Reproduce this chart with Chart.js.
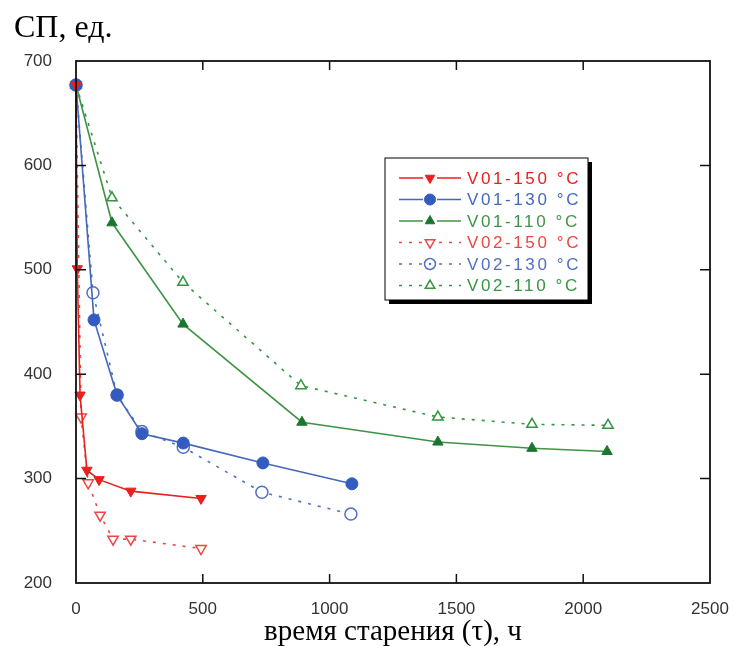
<!DOCTYPE html>
<html lang="ru">
<head>
  <meta charset="UTF-8">
  <title>СП от времени старения</title>
  <script src="https://cdn.jsdelivr.net/npm/chart.js"></script>
  <style>
    body { margin: 0; background: #fff; }
    #wrap { position: relative; width: 735px; height: 646px; }
    #yTitle {
      position: absolute; left: 14px; top: 9px;
      font-family: "Liberation Serif", "Times New Roman", serif;
      font-size: 32px; color: #000; line-height: 34px;
    }
    #chart { position: absolute; left: 0; top: 0; }
  </style>
</head>
<body>
  <div id="wrap">
    <canvas id="chart" width="735" height="646"></canvas>
    <div id="yTitle">СП, ед.</div>
  </div>

  <script>
    // values
    const seriesLabels = ['V01-150 °C', 'V01-130 °C', 'V01-110 °C', 'V02-150 °C', 'V02-130 °C', 'V02-110 °C'];

    const timeV01_150 = [0, 5, 16, 43, 91, 216, 493];
    const spV01_150 = [677, 501, 380, 308, 299, 288, 281];
    const timeV01_130 = [0, 71, 162, 260, 423, 737, 1088];
    const spV01_130 = [677, 452, 380, 343, 334, 315, 295];
    const timeV01_110 = [0, 142, 422, 891, 1427, 1798, 2094];
    const spV01_110 = [677, 545, 448, 354, 335, 329, 326];

    const timeV02_150 = [0, 20, 48, 95, 146, 216, 493];
    const spV02_150 = [677, 359, 296, 265, 242, 242, 233];
    const timeV02_130 = [0, 67, 162, 260, 423, 733, 1084];
    const spV02_130 = [677, 478, 380, 345, 330, 287, 266];
    const timeV02_110 = [0, 142, 422, 887, 1427, 1798, 2098];
    const spV02_110 = [677, 569, 488, 389, 359, 352, 351];

    const xTicks = [0, 500, 1000, 1500, 2000, 2500];
    const yTicks = [200, 300, 400, 500, 600, 700];

    function pts(xs, ys) {
      return xs.map((x, i) => ({ x: x, y: ys[i] }));
    }

    const red = 'rgb(232, 32, 30)';
    const blue = 'rgb(68, 104, 186)';
    const blueDark = 'rgb(52, 92, 192)';
    const green = 'rgb(62, 148, 70)';
    const greenDark = 'rgb(28, 118, 48)';

    function solid(label, data, color, fill, style, rot) {
      return {
        label: label, data: data, showLine: true, clip: false,
        borderColor: color, borderWidth: 1.6,
        pointStyle: style, rotation: rot, pointRadius: 6,
        pointBackgroundColor: fill, pointBorderColor: fill, pointBorderWidth: 1
      };
    }
    function dashed(label, data, color, style, rot) {
      return {
        label: label, data: data, showLine: true, clip: false,
        borderColor: color, borderWidth: 1.6, borderDash: [3, 7],
        pointStyle: style, rotation: rot, pointRadius: 6,
        pointBackgroundColor: '#fff', pointBorderColor: color, pointBorderWidth: 1.5
      };
    }

    // frame with inward ticks
    const framePlugin = {
      id: 'frame',
      afterDatasetsDraw(chart) {
        const { ctx, chartArea: a, scales } = chart;
        ctx.save();
        ctx.strokeStyle = '#111';
        ctx.lineWidth = 1.8;
        ctx.strokeRect(a.left, a.top, a.right - a.left, a.bottom - a.top);
        ctx.lineWidth = 1.5;
        ctx.beginPath();
        xTicks.slice(1, -1).forEach(v => {
          const px = scales.x.getPixelForValue(v);
          ctx.moveTo(px, a.bottom); ctx.lineTo(px, a.bottom - 9);
          ctx.moveTo(px, a.top); ctx.lineTo(px, a.top + 9);
        });
        yTicks.slice(1, -1).forEach(v => {
          const py = scales.y.getPixelForValue(v);
          ctx.moveTo(a.left, py); ctx.lineTo(a.left + 10, py);
          ctx.moveTo(a.right, py); ctx.lineTo(a.right - 10, py);
        });
        ctx.stroke();
        ctx.restore();
      }
    };

    // boxed legend with shadow, line sample + marker
    const legendPlugin = {
      id: 'boxLegend',
      afterDraw(chart) {
        const ctx = chart.ctx;
        const bx = 385, by = 158, bw = 203, bh = 142;
        ctx.save();
        ctx.fillStyle = '#000';
        ctx.fillRect(bx + 4, by + 4, bw, bh);
        ctx.fillStyle = '#fff';
        ctx.fillRect(bx, by, bw, bh);
        ctx.strokeStyle = '#000';
        ctx.lineWidth = 1;
        ctx.strokeRect(bx, by, bw, bh);
        chart.data.datasets.forEach((ds, i) => {
          const y = 178 + i * 21.5;
          ctx.strokeStyle = ds.borderColor;
          ctx.lineWidth = 1.6;
          ctx.setLineDash(ds.borderDash || []);
          ctx.beginPath();
          ctx.moveTo(399, y); ctx.lineTo(461, y);
          ctx.stroke();
          ctx.setLineDash([]);
          ctx.fillStyle = '#fff';
          ctx.fillRect(423, y - 7, 14, 14);
          ctx.fillStyle = ds.pointBackgroundColor;
          ctx.strokeStyle = ds.pointBorderColor;
          ctx.lineWidth = ds.pointBorderWidth;
          Chart.helpers.drawPoint(ctx, {
            pointStyle: ds.pointStyle, rotation: ds.rotation || 0,
            radius: 5.5, borderWidth: ds.pointBorderWidth
          }, 430, y);
          if (ds.pointStyle === 'circle' && ds.borderDash) {
            ctx.beginPath();
            ctx.arc(430, y, 1.2, 0, Math.PI * 2);
            ctx.fillStyle = ds.borderColor;
            ctx.fill();
          }
          ctx.fillStyle = ds.borderColor;
          ctx.font = '17px Arial, "Liberation Sans", sans-serif';
          ctx.letterSpacing = '2.6px';
          ctx.textBaseline = 'middle';
          ctx.textAlign = 'left';
          ctx.fillText(ds.label, 467, y + 1);
          ctx.letterSpacing = '0px';
        });
        ctx.restore();
      }
    };

    const ctx = document.getElementById('chart').getContext('2d');
    new Chart(ctx, {
      type: 'scatter',
      data: {
        datasets: [
          solid(seriesLabels[0], pts(timeV01_150, spV01_150), red, red, 'triangle', 180),
          solid(seriesLabels[1], pts(timeV01_130, spV01_130), blue, blueDark, 'circle', 0),
          solid(seriesLabels[2], pts(timeV01_110, spV01_110), green, greenDark, 'triangle', 0),
          dashed(seriesLabels[3], pts(timeV02_150, spV02_150), 'rgb(238, 70, 66)', 'triangle', 180),
          dashed(seriesLabels[4], pts(timeV02_130, spV02_130), 'rgb(84, 112, 190)', 'circle', 0),
          dashed(seriesLabels[5], pts(timeV02_110, spV02_110), 'rgb(52, 150, 66)', 'triangle', 0)
        ]
      },
      options: {
        responsive: false,
        animation: false,
        devicePixelRatio: 1,
        layout: { padding: { left: 0, right: 25, top: 61, bottom: 0 } },
        scales: {
          x: {
            type: 'linear', min: 0, max: 2500,
            grid: { display: false },
            border: { display: false },
            afterBuildTicks: (s) => { s.ticks = xTicks.map(v => ({ value: v })); },
            afterFit: (s) => { s.height = 63; s.paddingRight = 0; s.paddingLeft = 0; },
            ticks: {
              padding: 8, color: '#333', maxRotation: 0,
              callback: (v) => String(v),
              font: { family: 'Arial, "Liberation Sans", sans-serif', size: 17 }
            },
            title: {
              display: true, text: 'время старения (τ), ч', color: '#000',
              padding: { top: 0, bottom: -4 },
              font: { family: '"Liberation Serif", "Times New Roman", serif', size: 29 }
            }
          },
          y: {
            min: 200, max: 700,
            grid: { display: false },
            border: { display: false },
            afterBuildTicks: (s) => { s.ticks = yTicks.map(v => ({ value: v })); },
            afterFit: (s) => { s.width = 76; },
            ticks: {
              padding: 16, color: '#333',
              callback: (v) => String(v),
              font: { family: 'Arial, "Liberation Sans", sans-serif', size: 17 }
            }
          }
        },
        plugins: {
          legend: { display: false },
          tooltip: { enabled: false }
        }
      },
      plugins: [framePlugin, legendPlugin]
    });
  </script>
</body>
</html>
